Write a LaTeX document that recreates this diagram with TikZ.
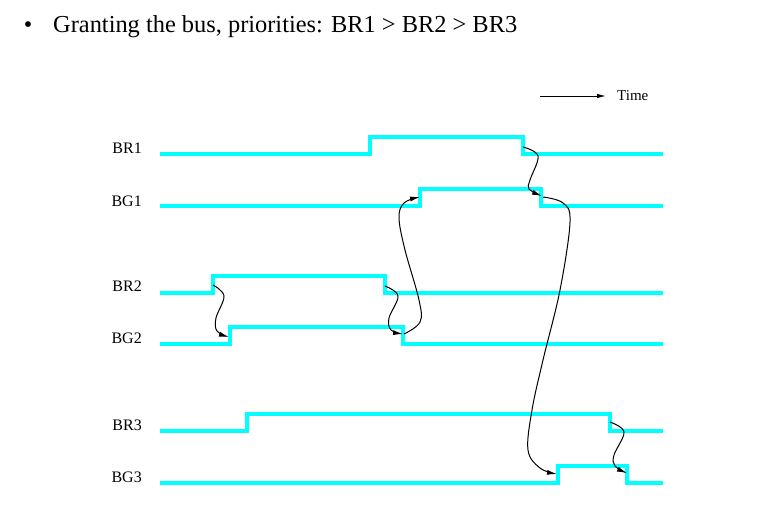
\documentclass[tikz,border=0pt]{standalone}
\usepackage{fontspec}
\setmainfont{Liberation Serif}
\usetikzlibrary{arrows.meta}
\begin{document}
\begin{tikzpicture}[x=1pt,y=-1pt,
  sig/.style={draw={rgb,255:red,0;green,255;blue,255}, line width=3.6pt, line join=miter},
  lbl/.style={anchor=base east, inner sep=0pt, font=\fontsize{16}{18}\selectfont},
  cause/.style={draw=black, line width=1pt, -{Latex[length=10pt,width=5pt]}}]
\useasboundingbox (0,0) rectangle (775,523);
% title
\node[anchor=base, inner sep=0pt, font=\fontsize{24}{28}\selectfont] (bul) at (28,32) {•};
\node[anchor=base west, inner sep=0pt, font=\fontsize{24.4}{28}\selectfont] (title) at (53,32) {Granting the bus, priorities: BR1 > BR2 > BR3};
% time arrow
\node[anchor=base west, inner sep=0pt, font=\fontsize{15}{18}\selectfont] (time) at (617,100) {Time};
\coordinate (t0) at (540,96);
\coordinate (t1) at (606,96);
\draw[line width=1pt, -{Latex[length=9pt,width=4.5pt]}] (t0) -- (t1);
% labels
\node[lbl] (lbr1) at (142,153) {BR1};
\node[lbl] (lbg1) at (142,206) {BG1};
\node[lbl] (lbr2) at (142,291) {BR2};
\node[lbl] (lbg2) at (142,343) {BG2};
\node[lbl] (lbr3) at (142,430) {BR3};
\node[lbl] (lbg3) at (142,482) {BG3};
% signals
\draw[sig] (160,154) -- (370,154) -- (370,137) -- (523,137) -- (523,154) -- (663,154);
\draw[sig] (160,206) -- (420,206) -- (420,189) -- (541,189) -- (541,206) -- (663,206);
\draw[sig] (160,293) -- (213,293) -- (213,276) -- (385,276) -- (385,293) -- (663,293);
\draw[sig] (160,344) -- (230,344) -- (230,327) -- (403,327) -- (403,344) -- (663,344);
\draw[sig] (160,431) -- (247,431) -- (247,414) -- (610,414) -- (610,431) -- (663,431);
\draw[sig] (160,483) -- (558,483) -- (558,466) -- (627,466) -- (627,483) -- (663,483);
% cause arrows
\coordinate (a1s) at (213,285); \coordinate (a1e) at (229,337);
\coordinate (a2s) at (385,286); \coordinate (a2e) at (403,334);
\coordinate (a3s) at (404,334); \coordinate (a3e) at (420,197);
\coordinate (a4s) at (523,147); \coordinate (a4e) at (542,196);
\coordinate (a5s) at (543,197); \coordinate (a5e) at (557,474);
\coordinate (a6s) at (610,422); \coordinate (a6e) at (627,473);
\draw[cause] plot[smooth, tension=0.6] coordinates {(a1s) (224,296) (216,318) (217,331) (a1e)};
\draw[cause] plot[smooth, tension=0.6] coordinates {(a2s) (398,296) (389,318) (391,330) (a2e)};
\draw[cause] plot[smooth, tension=0.6] coordinates {(a3s) (420,322) (419,300) (405,250) (399,218) (404,203) (a3e)};
\draw[cause] plot[smooth, tension=0.6] coordinates {(a4s) (538,156) (530,180) (529,189) (a4e)};
\draw[cause] plot[smooth, tension=0.6] coordinates {(a5s) (563,203) (570,222) (560,290) (543,360) (532,410) (528,450) (540,468) (a5e)};
\draw[cause] plot[smooth, tension=0.6] coordinates {(a6s) (624,432) (614,455) (615,466) (a6e)};
\end{tikzpicture}
\end{document}
